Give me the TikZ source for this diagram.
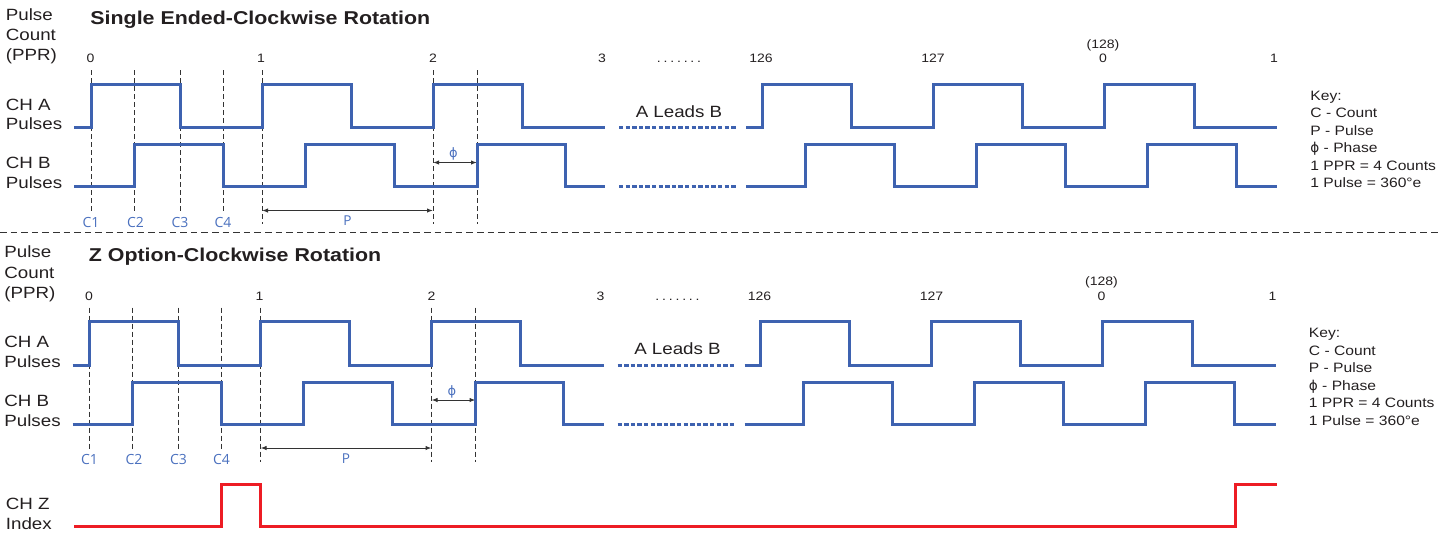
\documentclass[tikz,border=0pt]{standalone}
\usepackage{fontspec}
\setmainfont{Liberation Sans}[FakeStretch=1.15]
\newfontfamily\cfont{Open Sans}
\newfontfamily\phifont{DejaVu Sans}
\usetikzlibrary{arrows.meta}
\definecolor{sigblue}{RGB}{62,98,176}
\definecolor{lblblue}{RGB}{74,112,190}
\definecolor{txt}{RGB}{35,31,32}
\definecolor{zred}{RGB}{237,28,36}
\tikzset{
 lbl/.style={anchor=base west, inner sep=0, text=txt, font=\fontsize{8.15}{9}\selectfont},
 ttl/.style={anchor=base west, inner sep=0, text=txt, font=\bfseries\fontsize{9.3}{10}\selectfont},
 num/.style={anchor=base, inner sep=0, text=txt, font=\fontsize{6.1}{7}\selectfont},
 keytxt/.style={anchor=base west, inner sep=0, text=txt, font=\fontsize{6.8}{8}\selectfont},
 clbl/.style={anchor=base, inner sep=0, text=lblblue, font=\cfont\fontsize{7}{8}\selectfont},
 plbl/.style={anchor=base, inner sep=0, text=lblblue, font=\cfont\fontsize{6.8}{7}\selectfont},
 philbl/.style={anchor=base, inner sep=0, text=lblblue, font=\phifont\fontsize{6.5}{7}\selectfont},
 sig/.style={draw=sigblue, line width=1.5pt, line join=miter},
 sigdash/.style={draw=sigblue, line width=1.5pt, dash pattern=on 2.2pt off 1.1pt},
 guide/.style={draw=black!80, line width=0.5pt, dash pattern=on 2.5pt off 1.5pt},
 dimarrow/.style={draw=black!80, line width=0.5pt, {Latex[length=3pt,width=2.2pt]}-{Latex[length=3pt,width=2.2pt]}},
 zsig/.style={draw=zred, line width=1.5pt, line join=miter},
 sepline/.style={draw=black!80, line width=0.5pt, dash pattern=on 3.3pt off 2pt},
}
\newcommand\encsection[2]{%
 % labels
 \node[ttl] (#1-title) at (90,24) {#2};
 \node[lbl] (#1-pulse) at (5.5,20) {Pulse};
 \node[lbl] (#1-count) at (5.5,40.5) {Count};
 \node[lbl] (#1-ppr) at (5.5,60.5) {(PPR)};
 \node[lbl] (#1-cha1) at (5.5,110) {CH A};
 \node[lbl] (#1-cha2) at (5.5,129.5) {Pulses};
 \node[lbl] (#1-chb1) at (5.5,168.5) {CH B};
 \node[lbl] (#1-chb2) at (5.5,188.5) {Pulses};
 % count numbers
 \node[num] (#1-n0) at (90.5,62.8) {0};
 \node[num] (#1-n1) at (261,62.8) {1};
 \node[num] (#1-n2) at (433,62.8) {2};
 \node[num] (#1-n3) at (602,62.8) {3};
 \node[num] (#1-dots) at (679,62.8) {.\kern1.4pt.\kern1.4pt.\kern1.4pt.\kern1.4pt.\kern1.4pt.\kern1.4pt.};
 \node[num] (#1-n126) at (761,62.8) {126};
 \node[num] (#1-n127) at (933,62.8) {127};
 \node[num] (#1-n128) at (1103,48.3) {(128)};
 \node[num] (#1-n0b) at (1103,62.8) {0};
 \node[num] (#1-n1b) at (1274,62.8) {1};
 \node[lbl, anchor=base] (#1-lead) at (679,117) {A Leads B};
 % key
 \node[keytxt] (#1-k1) at (1310,100) {Key:};
 \node[keytxt] (#1-k2) at (1310,117.5) {C - Count};
 \node[keytxt] (#1-k3) at (1310,135) {P - Pulse};
 \node[keytxt] (#1-k4) at (1310,152.5) {{\phifont ϕ} - Phase};
 \node[keytxt] (#1-k5) at (1310,170) {1 PPR = 4 Counts};
 \node[keytxt] (#1-k6) at (1310,187.5) {1 Pulse = 360°e};
 % guide lines
 \draw[guide] (91,70) -- (91,212);
 \draw[guide] (134,70) -- (134,212);
 \draw[guide] (180,70) -- (180,212);
 \draw[guide] (223,70) -- (223,212);
 \draw[guide] (262,70) -- (262,224);
 \draw[guide] (433,70) -- (433,224);
 \draw[guide] (477,70) -- (477,224);
 % count labels
 \node[clbl] (#1-c1) at (91,227) {C1};
 \node[clbl] (#1-c2) at (135.5,227) {C2};
 \node[clbl] (#1-c3) at (180,227) {C3};
 \node[clbl] (#1-c4) at (223,227) {C4};
 % dimensions
 \coordinate (#1-pa) at (262,210.5);
 \coordinate (#1-pb) at (433,210.5);
 \draw[dimarrow] (#1-pa) -- (#1-pb);
 \node[plbl] (#1-p) at (347.5,225.5) {P};
 \coordinate (#1-fa) at (433,162.5);
 \coordinate (#1-fb) at (477,162.5);
 \draw[dimarrow] (#1-fa) -- (#1-fb);
 \node[philbl] (#1-phi) at (453.5,157.5) {ϕ};
 % signals
 \draw[sig] (74,127.5) -| (91,84) -| (180,127.5) -| (262,84) -| (351,127.5) -| (433,84) -| (522,127.5) -- (605,127.5);
 \draw[sig] (746,127.5) -| (762,84) -| (851,127.5) -| (933,84) -| (1022,127.5) -| (1104,84) -| (1194,127.5) -- (1277,127.5);
 \draw[sig] (74,186.5) -| (134,144.5) -| (223,186.5) -| (305,144.5) -| (394,186.5) -| (477,144.5) -| (565,186.5) -- (605,186.5);
 \draw[sig] (746,186.5) -| (805,144.5) -| (894,186.5) -| (976,144.5) -| (1065,186.5) -| (1147,144.5) -| (1236,186.5) -- (1277,186.5);
 \draw[sigdash] (619,127.5) -- (736,127.5);
 \draw[sigdash] (619,186.5) -- (736,186.5);
}
\begin{document}
\begin{tikzpicture}[x=0.5pt,y=-0.5pt]
\path[use as bounding box] (0,0) rectangle (1455,552);
\encsection{s}{Single Ended-Clockwise Rotation}
\coordinate (sepL) at (0,232.7);
\coordinate (sepR) at (1440,232.7);
\draw[sepline] (sepL) -- (sepR);
\begin{scope}[shift={(-1.5,237.5)}]
\encsection{z}{Z Option-Clockwise Rotation}
\end{scope}
\node[lbl] (chz1) at (5.5,509) {CH Z};
\node[lbl] (chz2) at (5.5,529) {Index};
\draw[zsig] (74,526.5) -| (221,484) -| (260.5,526.5) -| (1235,484) -- (1277,484);
\end{tikzpicture}
\end{document}
